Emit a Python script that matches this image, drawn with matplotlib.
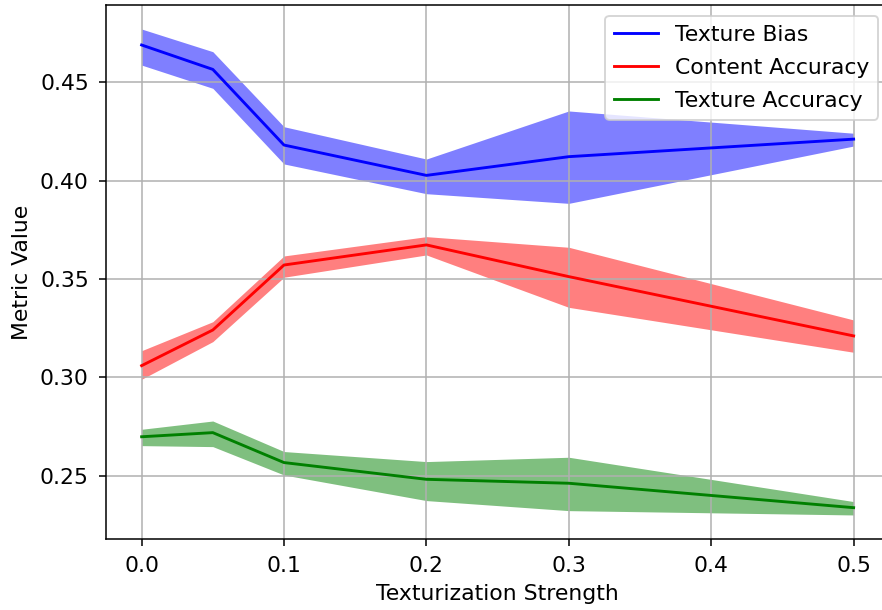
import matplotlib
matplotlib.use("Agg")
import matplotlib.pyplot as plt

plt.rcParams["font.size"] = 11.4
plt.rcParams["xtick.major.pad"] = 5.5
plt.rcParams["ytick.major.pad"] = 5.5

# Texturization strength levels
strength = [0.0, 0.05, 0.1, 0.2, 0.3, 0.5]

# Texture bias: mean with lower/upper band
bias_mean = [0.4688, 0.4564, 0.4180, 0.4026, 0.4121, 0.4210]
bias_low = [0.4586, 0.4468, 0.4084, 0.3933, 0.3884, 0.4175]
bias_high = [0.4769, 0.4654, 0.4273, 0.4109, 0.4353, 0.4240]

# Content accuracy
content_mean = [0.3060, 0.3241, 0.3571, 0.3673, 0.3512, 0.3211]
content_low = [0.2991, 0.3182, 0.3509, 0.3622, 0.3356, 0.3128]
content_high = [0.3136, 0.3283, 0.3617, 0.3715, 0.3661, 0.3292]

# Texture accuracy
texture_mean = [0.2699, 0.2720, 0.2568, 0.2483, 0.2463, 0.2339]
texture_low = [0.2654, 0.2649, 0.2505, 0.2375, 0.2324, 0.2302]
texture_high = [0.2737, 0.2779, 0.2624, 0.2573, 0.2595, 0.2370]

series = [
    ("Texture Bias", "blue", bias_mean, bias_low, bias_high),
    ("Content Accuracy", "red", content_mean, content_low, content_high),
    ("Texture Accuracy", "green", texture_mean, texture_low, texture_high),
]

fig = plt.figure(figsize=(882 / 138, 610 / 138), dpi=138)
ax = fig.add_axes([0.1202, 0.1164, 0.888, 0.8754])

for name, color, mean, low, high in series:
    ax.plot(strength, mean, color=color, label=name)
    ax.fill_between(strength, low, high, color=color, alpha=0.5, linewidth=0)

ax.set_ylim(0.218, 0.4891)
ax.set_xlabel("Texturization Strength")
ax.set_ylabel("Metric Value")
ax.grid(True)
ax.legend(loc="upper right", labelspacing=0.6)

fig.savefig("out.png", dpi=138)
